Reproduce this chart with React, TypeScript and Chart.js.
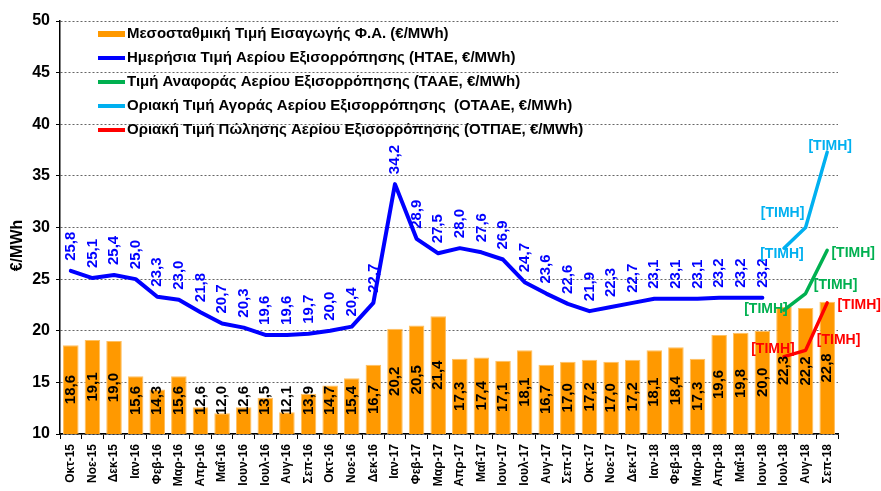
import { useEffect, useRef } from "react";
import { Chart, registerables } from "chart.js";

Chart.register(...registerables);

const FONT = "'Liberation Sans', Arial, sans-serif";

const months = [
  "Οκτ-15", "Νοε-15", "Δεκ-15", "Ιαν-16", "Φεβ-16", "Μαρ-16", "Απρ-16", "Μαΐ-16", "Ιουν-16", "Ιουλ-16", "Αυγ-16", "Σεπ-16",
  "Οκτ-16", "Νοε-16", "Δεκ-16", "Ιαν-17", "Φεβ-17", "Μαρ-17", "Απρ-17", "Μαΐ-17", "Ιουν-17", "Ιουλ-17", "Αυγ-17", "Σεπ-17",
  "Οκτ-17", "Νοε-17", "Δεκ-17", "Ιαν-18", "Φεβ-18", "Μαρ-18", "Απρ-18", "Μαΐ-18", "Ιουν-18", "Ιουλ-18", "Αυγ-18", "Σεπ-18",
];

const importPrice = [
  18.6, 19.1, 19.0, 15.6, 14.3, 15.6, 12.6, 12.0, 12.6, 13.5, 12.1, 13.9,
  14.7, 15.4, 16.7, 20.2, 20.5, 21.4, 17.3, 17.4, 17.1, 18.1, 16.7, 17.0,
  17.2, 17.0, 17.2, 18.1, 18.4, 17.3, 19.6, 19.8, 20.0, 22.3, 22.2, 22.8,
];

const htae: (number | null)[] = [
  25.8, 25.1, 25.4, 25.0, 23.3, 23.0, 21.8, 20.7, 20.3, 19.6, 19.6, 19.7,
  20.0, 20.4, 22.7, 34.2, 28.9, 27.5, 28.0, 27.6, 26.9, 24.7, 23.6, 22.6,
  21.9, 22.3, 22.7, 23.1, 23.1, 23.1, 23.2, 23.2, 23.2, null, null, null,
];

const gap33 = Array(33).fill(null);
const taae: (number | null)[] = [...gap33, 22.0, 23.6, 27.8];
const otaae: (number | null)[] = [...gap33, 28.0, 30.0, 37.3];
const otpae: (number | null)[] = [...gap33, 17.5, 18.1, 22.7];

const placeholder = "[ΤΙΜΗ]";

const legendLabels = [
  "Μεσοσταθμική Τιμή Εισαγωγής Φ.Α. (€/MWh)",
  "Ημερήσια Τιμή Αερίου Εξισορρόπησης (ΗΤΑΕ, €/MWh)",
  "Τιμή Αναφοράς Αερίου Εξισορρόπησης (ΤΑΑΕ, €/MWh)",
  "Οριακή Τιμή Αγοράς Αερίου Εξισορρόπησης  (ΟΤΑΑΕ, €/MWh)",
  "Οριακή Τιμή Πώλησης Αερίου Εξισορρόπησης (ΟΤΠΑΕ, €/MWh)",
];

const yTitle = "€/MWh";

const ORANGE = "#FF9900";
const BLUE = "#0000FF";
const GREEN = "#00B050";
const CYAN = "#00B0F0";
const RED = "#FF0000";
const legendColors = [ORANGE, BLUE, GREEN, CYAN, RED];

// label offsets (pixels) relative to each point for the [ΤΙΜΗ] placeholders
const cyanOffsets = [[-2, 6], [-23, -14], [3, -6]];
const greenOffsets = [[-18, -1], [30, -8], [26, 3]];
const redOffsets = [[-11, -7], [33, -10], [32, 2]];

const fmt = (v: number) => v.toFixed(1).replace(".", ",");

const overlayPlugin = {
  id: "overlay",
  afterDatasetsDraw(chart: any) {
    const ctx = chart.ctx as CanvasRenderingContext2D;
    const area = chart.chartArea;

    // bar labels
    const barMeta = chart.getDatasetMeta(4);
    ctx.save();
    ctx.font = `bold 15px ${FONT}`;
    ctx.fillStyle = "#000";
    ctx.textAlign = "center";
    ctx.textBaseline = "middle";
    barMeta.data.forEach((el: any, i: number) => {
      const text = fmt(importPrice[i]);
      const w = ctx.measureText(text).width;
      const base = area.bottom;
      let cy = (el.y + base) / 2;
      const maxBottom = base - 19;
      if (cy + w / 2 > maxBottom) cy = maxBottom - w / 2;
      ctx.save();
      ctx.translate(el.x, cy);
      ctx.rotate(-Math.PI / 2);
      ctx.fillText(text, 0, 0);
      ctx.restore();
    });
    ctx.restore();

    // HTAE labels
    const blueMeta = chart.getDatasetMeta(0);
    ctx.save();
    ctx.font = `bold 15px ${FONT}`;
    ctx.fillStyle = BLUE;
    ctx.textAlign = "left";
    ctx.textBaseline = "middle";
    blueMeta.data.forEach((el: any, i: number) => {
      const v = htae[i];
      if (v == null) return;
      ctx.save();
      ctx.translate(el.x, el.y - 10);
      ctx.rotate(-Math.PI / 2);
      ctx.fillText(fmt(v), 0, 0);
      ctx.restore();
    });
    ctx.restore();

    // placeholder labels
    const drawPh = (idx: number, data: (number | null)[], color: string, offs: number[][]) => {
      const meta = chart.getDatasetMeta(idx);
      let k = 0;
      ctx.save();
      ctx.font = `bold 14px ${FONT}`;
      ctx.fillStyle = color;
      ctx.textAlign = "center";
      ctx.textBaseline = "middle";
      meta.data.forEach((el: any, i: number) => {
        if (data[i] == null) return;
        const o = offs[k++] || [0, 0];
        ctx.fillText(placeholder, el.x + o[0], el.y + o[1]);
      });
      ctx.restore();
    };
    drawPh(2, otaae, CYAN, cyanOffsets);
    drawPh(1, taae, GREEN, greenOffsets);
    drawPh(3, otpae, RED, redOffsets);

    // legend
    ctx.save();
    ctx.font = `bold 15px ${FONT}`;
    ctx.textAlign = "left";
    ctx.textBaseline = "middle";
    const lx = area.left + 38;
    legendLabels.forEach((t, i) => {
      const ly = area.top + 13 + i * 24;
      ctx.fillStyle = legendColors[i];
      if (i === 0) ctx.fillRect(lx, ly - 3, 27, 6);
      else ctx.fillRect(lx, ly - 2, 27, 4);
      ctx.fillStyle = "#000";
      ctx.fillText(t, lx + 29, ly);
    });
    ctx.restore();

    // y title
    ctx.save();
    ctx.font = `bold 16px ${FONT}`;
    ctx.fillStyle = "#000";
    ctx.textAlign = "center";
    ctx.textBaseline = "middle";
    ctx.translate(18, (area.top + area.bottom) / 2 + 18);
    ctx.rotate(-Math.PI / 2);
    ctx.fillText(yTitle, 0, 0);
    ctx.restore();
  },
};

export default function App() {
  const ref = useRef<HTMLCanvasElement>(null);

  useEffect(() => {
    if (!ref.current) return;
    const lineBase = {
      type: "line" as const,
      pointRadius: 0,
      pointHoverRadius: 0,
      tension: 0,
      borderJoinStyle: "round" as const,
      borderCapStyle: "round" as const,
      spanGaps: false,
      fill: false,
      order: 0,
    };
    const chart = new Chart(ref.current, {
      type: "bar",
      data: {
        labels: months,
        datasets: [
          { ...lineBase, label: legendLabels[1], data: htae, borderColor: BLUE, backgroundColor: BLUE, borderWidth: 4 },
          { ...lineBase, label: legendLabels[2], data: taae, borderColor: GREEN, backgroundColor: GREEN, borderWidth: 3.5 },
          { ...lineBase, label: legendLabels[3], data: otaae, borderColor: CYAN, backgroundColor: CYAN, borderWidth: 3.5 },
          { ...lineBase, label: legendLabels[4], data: otpae, borderColor: RED, backgroundColor: RED, borderWidth: 3.5 },
          {
            type: "bar" as const,
            label: legendLabels[0],
            data: importPrice,
            backgroundColor: ORANGE,
            borderColor: "#FFC060",
            borderWidth: 1,
            barPercentage: 0.72,
            categoryPercentage: 1,
            order: 1,
          },
        ] as any,
      },
      options: {
        animation: false,
        responsive: false,
        maintainAspectRatio: false,
        layout: { padding: { left: 0, top: 21, right: 43, bottom: 0 } },
        plugins: { legend: { display: false }, tooltip: { enabled: false } },
        scales: {
          x: {
            offset: true,
            grid: { display: true, drawOnChartArea: false, color: "#000", tickLength: 5, offset: true },
            border: { display: true, color: "#000", width: 1.5 },
            ticks: {
              autoSkip: false,
              minRotation: 90,
              maxRotation: 90,
              color: "#000",
              padding: 5,
              font: { family: FONT, size: 12, weight: "bold" },
            },
            afterFit: (s: any) => { s.height = 57; },
          },
          y: {
            min: 10,
            max: 50,
            ticks: {
              stepSize: 5,
              color: "#000",
              padding: 6,
              font: { family: FONT, size: 16, weight: "bold" },
            },
            grid: { color: "#666", lineWidth: 1, tickLength: 4, tickColor: "#000" },
            border: { display: true, color: "#000", width: 1.5, dash: [2, 2] },
            afterFit: (s: any) => { s.width = 60; },
          },
        },
      },
      plugins: [overlayPlugin],
    });
    return () => chart.destroy();
  }, []);

  return (
    <div style={{ position: "absolute", left: 0, top: 0, width: 881, height: 491, background: "#fff" }}>
      <canvas ref={ref} width={881} height={491} style={{ width: 881, height: 491 }} />
    </div>
  );
}
